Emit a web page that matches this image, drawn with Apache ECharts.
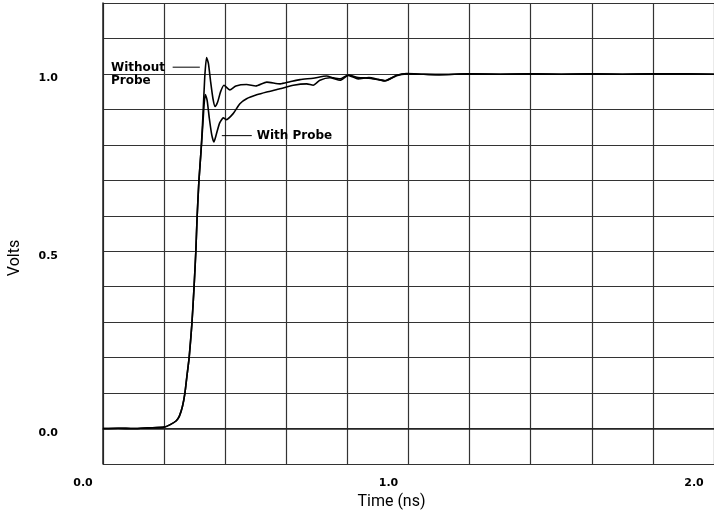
<!DOCTYPE html>
<html><head><meta charset="utf-8">
<script src="https://cdn.jsdelivr.net/npm/echarts@6/dist/echarts.min.js"></script>
<style>html,body{margin:0;padding:0;background:#fff}#c{width:714px;height:516px}</style>
</head><body><div id="c"></div><script>
// Shared rising edge (time ns, volts)
const riseT = [0.00, 0.05, 0.10, 0.15, 0.20, 0.22, 0.24, 0.25, 0.26, 0.268, 0.275, 0.282, 0.291, 0.298, 0.304, 0.308, 0.314, 0.321];
const riseV = [0.000, 0.001, 0.000, 0.002, 0.004, 0.011, 0.022, 0.035, 0.062, 0.099, 0.150, 0.200, 0.296, 0.398, 0.502, 0.595, 0.699, 0.784];
// Ringing, without probe
const withoutT = [0.327, 0.333, 0.339, 0.345, 0.352, 0.360, 0.367, 0.375, 0.385, 0.396, 0.415, 0.435, 0.470, 0.500, 0.536, 0.580, 0.612, 0.645, 0.688, 0.732, 0.754, 0.776, 0.803, 0.835, 0.870, 0.900, 0.923, 0.961, 0.994];
const withoutV = [0.880, 0.990, 1.046, 1.030, 0.980, 0.930, 0.908, 0.920, 0.950, 0.968, 0.955, 0.966, 0.970, 0.966, 0.977, 0.972, 0.978, 0.984, 0.988, 0.994, 0.989, 0.986, 0.997, 0.990, 0.988, 0.984, 0.981, 0.996, 1.001];
// Ringing, with probe
const withT = [0.327, 0.331, 0.335, 0.341, 0.348, 0.356, 0.363, 0.371, 0.382, 0.394, 0.403, 0.426, 0.448, 0.470, 0.503, 0.536, 0.579, 0.623, 0.667, 0.688, 0.710, 0.743, 0.776, 0.803, 0.835, 0.870, 0.900, 0.923, 0.961, 0.994];
const withV = [0.860, 0.915, 0.942, 0.925, 0.875, 0.828, 0.808, 0.830, 0.862, 0.876, 0.871, 0.888, 0.916, 0.930, 0.941, 0.949, 0.958, 0.968, 0.972, 0.968, 0.982, 0.989, 0.982, 0.996, 0.986, 0.990, 0.985, 0.980, 0.995, 1.000];
// Settled tail (shared)
const tailT = [1.05, 1.10, 1.20, 1.30, 1.40, 1.50, 1.60, 1.70, 1.80, 1.90, 2.00];
const tailV = [0.999, 0.998, 1.000, 0.999, 1.000, 0.999, 1.000, 0.999, 1.000, 1.000, 0.999];
// Tick labels shown
const xTickLabels = [0.0, 1.0, 2.0];
const yTickLabels = [0.0, 0.5, 1.0];
// Annotations (data coords)
const annWithout = { text: 'Without\nProbe', textAt: [0.026, 1.035], lineFrom: [0.228, 1.019], lineTo: [0.317, 1.019] };
const annWith = { text: 'With Probe', textAt: [0.503, 0.826], lineFrom: [0.389, 0.826], lineTo: [0.487, 0.826] };

function pairs(ts, vs) { return ts.map((t, i) => [t, vs[i]]); }
const dataWithout = pairs(riseT, riseV).concat(pairs(withoutT, withoutV), pairs(tailT, tailV));
const dataWith = pairs(riseT, riseV).concat(pairs(withT, withV), pairs(tailT, tailV));

function shown(list, v) { return list.some(x => Math.abs(x - v) < 1e-6); }

const chart = echarts.init(document.getElementById('c'));
const gridColor = '#333';
const nameFont = 'Liberation Sans Narrow, Roboto, sans-serif';
chart.setOption({
  animation: false,
  backgroundColor: '#fff',
  grid: { left: 103, right: 0, top: 3, bottom: 52, outerBoundsMode: 'none' },
  xAxis: {
    type: 'value', min: 0, max: 2, interval: 0.2,
    name: 'Time (ns)', nameLocation: 'middle', nameGap: 28,
    nameTextStyle: { fontFamily: nameFont, fontSize: 16, color: '#000', padding: [0, 34, 0, 0] },
    axisLine: { show: true, lineStyle: { color: '#222', width: 1.5 } },
    axisTick: { show: false },
    splitLine: { show: true, lineStyle: { color: gridColor, width: 1.2 } },
    axisLabel: {
      margin: 14, fontFamily: 'DejaVu Sans', fontWeight: 'bold', fontSize: 11, color: '#000',
      padding: [0, 40, 0, 0],
      formatter: v => shown(xTickLabels, v) ? v.toFixed(1) : ''
    }
  },
  yAxis: {
    type: 'value', min: -0.1, max: 1.2, interval: 0.1,
    name: 'Volts', nameLocation: 'middle', nameGap: 80, nameRotate: 90,
    nameTextStyle: { fontFamily: nameFont, fontSize: 16, color: '#000', padding: [0, 49, 0, 0] },
    axisLine: { show: true, lineStyle: { color: '#222', width: 1.5 } },
    axisTick: { show: false },
    splitLine: { show: true, lineStyle: { color: gridColor, width: 1.2 } },
    axisLabel: {
      margin: 45, fontFamily: 'DejaVu Sans', fontWeight: 'bold', fontSize: 11, color: '#000',
      verticalAlign: 'top', lineHeight: 9,
      formatter: v => shown(yTickLabels, v) ? v.toFixed(1) : ''
    }
  },
  series: [
    { name: 'Without Probe', type: 'line', data: dataWithout, showSymbol: false, smooth: 0.2,
      lineStyle: { color: '#000', width: 1.6 } },
    { name: 'With Probe', type: 'line', data: dataWith, showSymbol: false, smooth: 0.2,
      lineStyle: { color: '#000', width: 1.6 } }
  ]
});

function px(c) { return chart.convertToPixel({ gridIndex: 0 }, c); }
function annGraphics(a, vAlign) {
  const p0 = px(a.lineFrom), p1 = px(a.lineTo), pt = px(a.textAt);
  return [
    { type: 'line', shape: { x1: p0[0], y1: p0[1], x2: p1[0], y2: p1[1] }, style: { stroke: '#000', lineWidth: 1 }, z: 10 },
    { type: 'text', x: pt[0], y: pt[1], z: 10,
      style: { text: a.text, fontFamily: 'DejaVu Sans', fontWeight: 'bold', fontSize: 12, fill: '#000',
               align: 'left', verticalAlign: vAlign, lineHeight: 13 } }
  ];
}
chart.setOption({ graphic: annGraphics(annWithout, 'top').concat(annGraphics(annWith, 'middle')) });
</script></body></html>
